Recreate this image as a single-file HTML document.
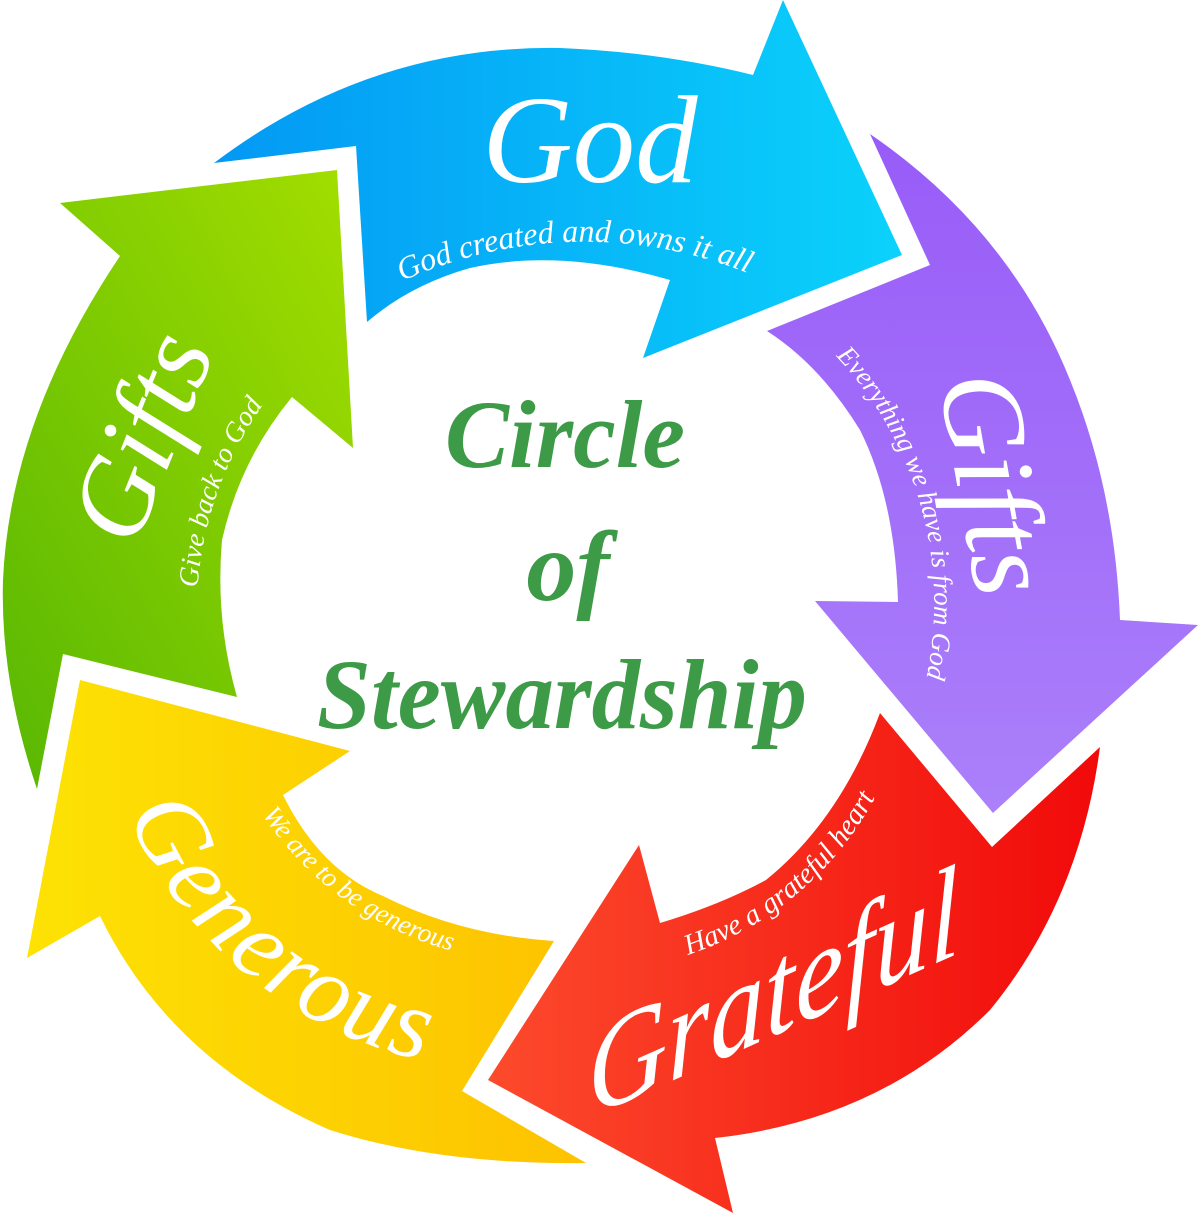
<!DOCTYPE html>
<html><head><meta charset="utf-8"><style>
html,body{margin:0;padding:0;background:#fff;}
svg{display:block;}
text{font-family:"Liberation Serif",serif;font-style:italic;}
</style></head><body>
<svg width="1200" height="1215" viewBox="0 0 1200 1215" xmlns="http://www.w3.org/2000/svg">
<defs>
<linearGradient id="gb" x1="0" y1="0" x2="1" y2="0"><stop offset="0" stop-color="#0398f4"/><stop offset="1" stop-color="#0bd2fb"/></linearGradient>
<linearGradient id="gp" x1="0" y1="0" x2="0" y2="1"><stop offset="0" stop-color="#985cf8"/><stop offset="1" stop-color="#ab80fa"/></linearGradient>
<linearGradient id="gg" x1="0" y1="1" x2="1" y2="0"><stop offset="0" stop-color="#58b703"/><stop offset="1" stop-color="#a3de00"/></linearGradient>
<linearGradient id="gy" x1="0" y1="0" x2="1" y2="0"><stop offset="0" stop-color="#fde204"/><stop offset="1" stop-color="#fdc200"/></linearGradient>
<linearGradient id="gr" x1="0" y1="0" x2="1" y2="0"><stop offset="0" stop-color="#fc4a2c"/><stop offset="1" stop-color="#f10a0a"/></linearGradient>
<path id="pBlue" d="M 405 280 A 440 440 0 0 1 745 272"/>
<path id="pPurp" d="M 812 333 A 360 360 0 0 1 918 710"/>
<path id="pGreen" d="M 197 596 A 360 360 0 0 1 268 398"/>
<path id="pYel" d="M 252 798 A 330 330 0 0 0 470 955"/>
<path id="pRed" d="M 678 958 A 330 330 0 0 0 880 788"/>
<path id="pGen" d="M 112 772 A 420 420 0 0 0 470 1068"/>
</defs>

<path fill="url(#gb)" d="M 214 163 Q 370 45 560 48 Q 660 52 753 75 L 783 0 L 902 255 L 643 358 L 670 280 Q 560 248 470 268 Q 410 285 367 322 L 356 146 Z"/>
<path fill="url(#gp)" d="M 870 134 Q 1010 230 1070 380 Q 1115 490 1120 620 L 1198 625 L 993 813 L 815 601 L 898 602 Q 895 500 860 430 Q 820 365 767 331 L 930 265 Z"/>
<path fill="url(#gg)" d="M 37 789 Q 0 680 3 580 Q 10 420 120 256 L 60 203 L 337 170 L 353 448 L 292 397 Q 240 460 222 540 Q 215 620 237 697 L 63 654 Z"/>
<path fill="url(#gy)" d="M 80 680 L 350 751 L 283 795 Q 320 870 383 896 Q 460 935 554 941 L 462 1091 L 586 1163 Q 440 1165 330 1130 Q 170 1060 100 916 L 27 958 Z"/>
<path fill="url(#gr)" d="M 1100 747 Q 1080 900 990 1010 Q 880 1120 715 1138 L 733 1213 L 488 1080 L 639 845 L 660 923 Q 720 905 766 880 Q 840 820 880 713 L 992 847 Z"/>

<text x="590" y="182" font-size="125" fill="#fff" text-anchor="middle">God</text>
<text font-size="32" fill="#fff"><textPath href="#pBlue" startOffset="50%" text-anchor="middle">God created and owns it all</textPath></text>

<text transform="translate(958,490) rotate(80)" font-size="115" fill="#fff" text-anchor="middle">Gifts</text>
<text font-size="27" fill="#fff"><textPath href="#pPurp" startOffset="50%" text-anchor="middle">Everything we have is from God</textPath></text>

<text transform="translate(175,450) rotate(-68)" font-size="110" fill="#fff" text-anchor="middle">Gifts</text>
<text font-size="28" fill="#fff"><textPath href="#pGreen" startOffset="50%" text-anchor="middle">Give back to God</textPath></text>

<text font-size="100" fill="#fff" letter-spacing="2"><textPath href="#pGen" startOffset="50%" text-anchor="middle">Generous</textPath></text>
<text font-size="27" fill="#fff"><textPath href="#pYel" startOffset="50%" text-anchor="middle">We are to be generous</textPath></text>

<text transform="translate(775,1035) rotate(-24) skewX(-22)" font-size="120" fill="#fff" text-anchor="middle">Grateful</text>
<text font-size="29" fill="#fff"><textPath href="#pRed" startOffset="50%" text-anchor="middle">Have a grateful heart</textPath></text>

<g fill="#3d9a47" font-weight="bold" text-anchor="middle">
<text x="565" y="467" font-size="96">Circle</text>
<text x="568" y="600" font-size="100">of</text>
<text x="562" y="728" font-size="100" textLength="490" lengthAdjust="spacingAndGlyphs">Stewardship</text>
</g>
</svg>
</body></html>
